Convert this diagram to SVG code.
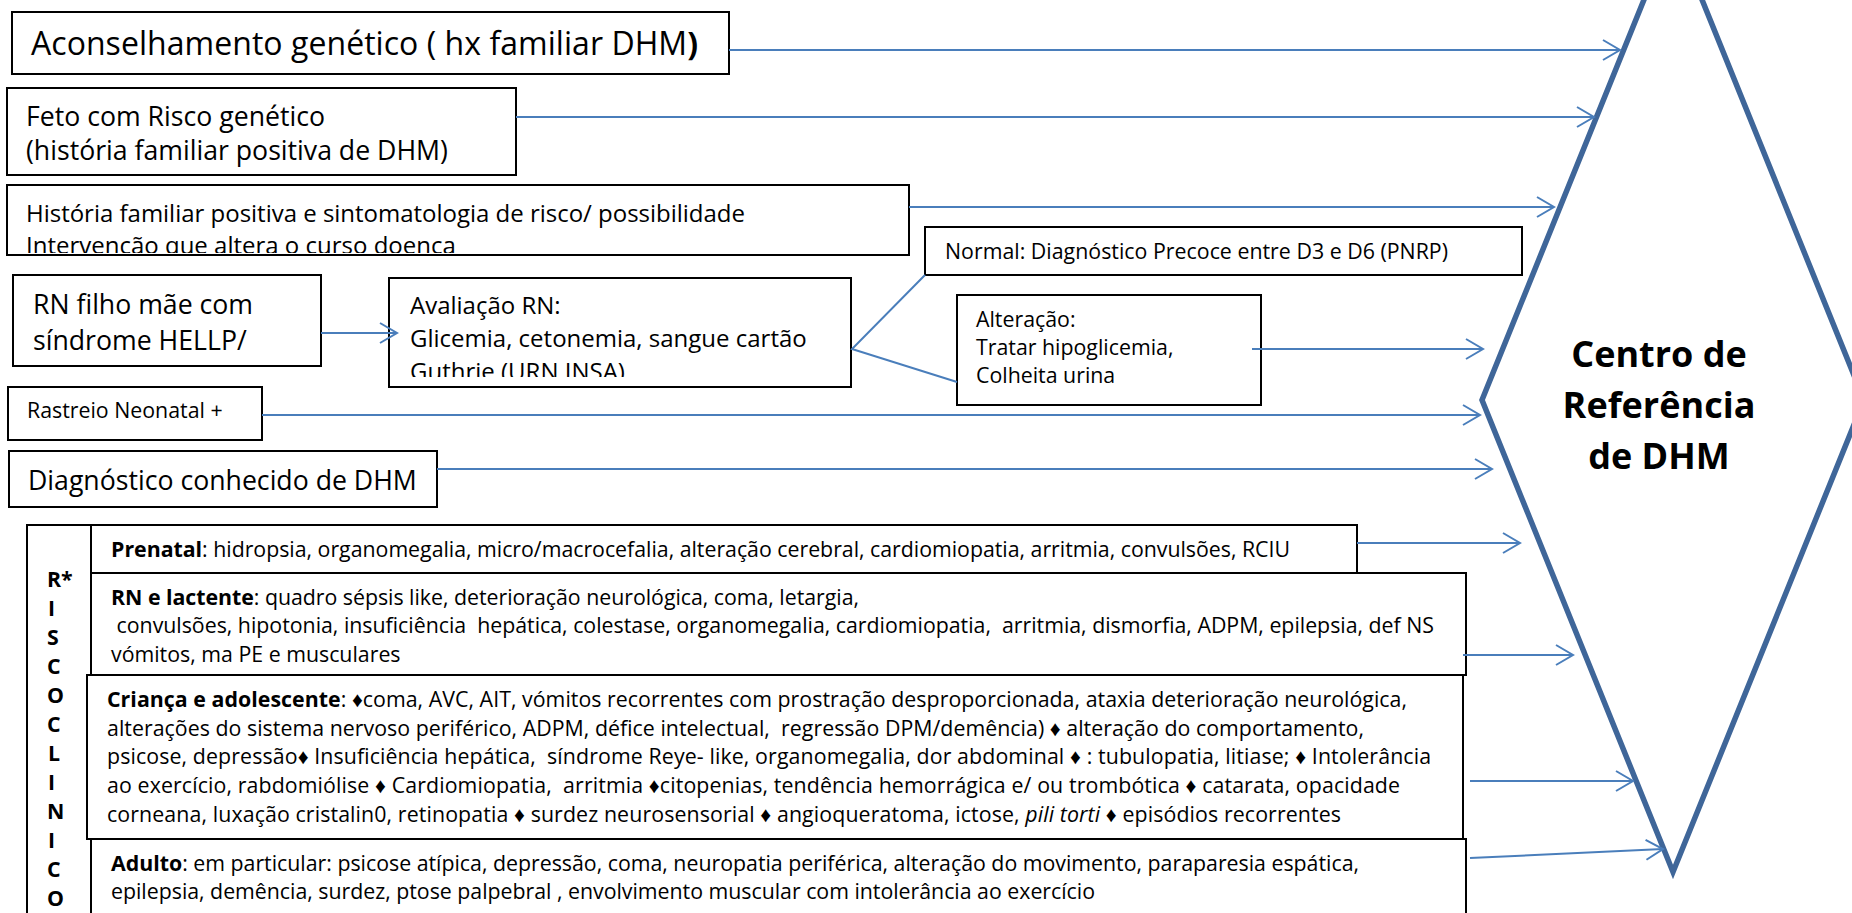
<svg xmlns="http://www.w3.org/2000/svg" width="1852" height="913" viewBox="0 0 1852 913">
<defs>
<style>
text { font-family: "Open Sans", "Liberation Sans", sans-serif; fill: #000; white-space: pre; }
.box { fill: #fff; stroke: #000; stroke-width: 2; }
.conn { fill: none; stroke: #4a7ebb; stroke-width: 2; }
.f32 { font-size: 32px; }
.f27 { font-size: 26.67px; }
.f24 { font-size: 24px; }
.f21 { font-size: 21.33px; }
.b { font-weight: bold; }
.col { font-size: 21.33px; font-weight: bold; }
.hub { font-size: 36px; font-weight: bold; text-anchor: middle; }
</style>
<marker id="ah" markerUnits="userSpaceOnUse" markerWidth="22" markerHeight="24" viewBox="0 0 22 24" refX="19" refY="12" orient="auto">
<path d="M2,2 L19,12 L2,22" fill="none" stroke="#4a7ebb" stroke-width="2"/>
</marker>
<clipPath id="clip3"><rect x="7" y="185" width="902" height="68"/></clipPath>
<clipPath id="clipav"><rect x="389" y="278" width="462" height="99"/></clipPath>
</defs>
<rect x="0" y="0" width="1852" height="913" fill="#fff"/>

<g id="centro-referencia">
<polygon points="1673,-72 1864,400 1673,872 1482,400" fill="#fff" stroke="#3f6699" stroke-width="5.5"/>
<text class="hub" x="1659" y="367">Centro de</text>
<text class="hub" x="1659" y="418">Referência</text>
<text class="hub" x="1659" y="469">de DHM</text>
</g>

<g id="aconselhamento">
<rect class="box" x="12" y="12" width="717" height="62"/>
<text class="f32" x="31" y="55" textLength="667">Aconselhamento genético ( hx familiar DHM<tspan class="b">)</tspan></text>
</g>

<g id="feto-risco">
<rect class="box" x="7" y="88" width="509" height="87"/>
<text class="f27" x="26" y="126">Feto com Risco genético</text>
<text class="f27" x="26" y="160">(história familiar positiva de DHM)</text>
</g>

<g id="historia-familiar">
<rect class="box" x="7" y="185" width="902" height="70"/>
<text class="f24" x="26" y="222" textLength="719">História familiar positiva e sintomatologia de risco/ possibilidade</text>
<text class="f24" x="26" y="254" clip-path="url(#clip3)">Intervenção que altera o curso doença</text>
</g>

<g id="normal">
<rect class="box" x="925" y="227" width="597" height="48"/>
<text class="f21" x="945" y="259" textLength="503">Normal: Diagnóstico Precoce entre D3 e D6 (PNRP)</text>
</g>

<g id="rn-hellp">
<rect class="box" x="13" y="275" width="308" height="91"/>
<text class="f27" x="33" y="314">RN filho mãe com</text>
<text class="f27" x="33" y="350">síndrome HELLP/</text>
</g>

<g id="avaliacao-rn">
<rect class="box" x="389" y="278" width="462" height="109"/>
<text class="f24" x="410" y="314">Avaliação RN:</text>
<text class="f24" x="410" y="347">Glicemia, cetonemia, sangue cartão</text>
<text class="f24" x="410" y="380" clip-path="url(#clipav)">Guthrie (URN INSA)</text>
</g>

<g id="alteracao">
<rect class="box" x="957" y="295" width="304" height="110"/>
<text class="f21" x="976" y="327">Alteração:</text>
<text class="f21" x="976" y="355">Tratar hipoglicemia,</text>
<text class="f21" x="976" y="383">Colheita urina</text>
</g>

<g id="rastreio">
<rect class="box" x="8" y="387" width="254" height="53"/>
<text class="f21" x="27" y="418">Rastreio Neonatal +</text>
</g>

<g id="diagnostico">
<rect class="box" x="9" y="451" width="428" height="56"/>
<text class="f27" x="28" y="490">Diagnóstico conhecido de DHM</text>
</g>

<g id="risco-clinico">
<rect class="box" x="27" y="525" width="64" height="410"/>
<text class="col" x="47" y="587">R*</text>
<text class="col" x="48" y="616">I</text>
<text class="col" x="47" y="645">S</text>
<text class="col" x="47" y="674">C</text>
<text class="col" x="47" y="703">O</text>
<text class="col" x="47" y="732">C</text>
<text class="col" x="48" y="761">L</text>
<text class="col" x="48" y="790">I</text>
<text class="col" x="47" y="819">N</text>
<text class="col" x="48" y="848">I</text>
<text class="col" x="47" y="877">C</text>
<text class="col" x="47" y="906">O</text>
</g>

<g id="prenatal">
<rect class="box" x="91" y="525" width="1266" height="48"/>
<text class="f21" x="111" y="557" textLength="1179"><tspan class="b">Prenatal</tspan>: hidropsia, organomegalia, micro/macrocefalia, alteração cerebral, cardiomiopatia, arritmia, convulsões, RCIU</text>
</g>

<g id="rn-lactente">
<rect class="box" x="91" y="573" width="1375" height="102"/>
<text class="f21" x="111" y="605" textLength="748"><tspan class="b">RN e lactente</tspan>: quadro sépsis like, deterioração neurológica, coma, letargia,</text>
<text class="f21" x="111" y="633" textLength="1323"> convulsões, hipotonia, insuficiência  hepática, colestase, organomegalia, cardiomiopatia,  arritmia, dismorfia, ADPM, epilepsia, def NS</text>
<text class="f21" x="111" y="662">vómitos, ma PE e musculares</text>
</g>

<g id="crianca-adolescente">
<rect class="box" x="87" y="675" width="1376" height="164"/>
<text class="f21" x="107" y="707" textLength="1300"><tspan class="b">Criança e adolescente</tspan>: ♦coma, AVC, AIT, vómitos recorrentes com prostração desproporcionada, ataxia deterioração neurológica,</text>
<text class="f21" x="107" y="736" textLength="1257">alterações do sistema nervoso periférico, ADPM, défice intelectual,  regressão DPM/demência) ♦ alteração do comportamento,</text>
<text class="f21" x="107" y="764" textLength="1324">psicose, depressão♦ Insuficiência hepática,  síndrome Reye- like, organomegalia, dor abdominal ♦ : tubulopatia, litiase; ♦ Intolerância</text>
<text class="f21" x="107" y="793" textLength="1293">ao exercício, rabdomiólise ♦ Cardiomiopatia,  arritmia ♦citopenias, tendência hemorrágica e/ ou trombótica ♦ catarata, opacidade</text>
<text class="f21" x="107" y="822" textLength="1234">corneana, luxação cristalin0, retinopatia ♦ surdez neurosensorial ♦ angioqueratoma, ictose, <tspan font-style="italic">pili torti</tspan> ♦ episódios recorrentes</text>
</g>

<g id="adulto">
<rect class="box" x="91" y="839" width="1375" height="96"/>
<text class="f21" x="111" y="871" textLength="1248"><tspan class="b">Adulto</tspan>: em particular: psicose atípica, depressão, coma, neuropatia periférica, alteração do movimento, paraparesia espática,</text>
<text class="f21" x="111" y="899" textLength="984">epilepsia, demência, surdez, ptose palpebral , envolvimento muscular com intolerância ao exercício</text>
</g>

<g id="connectors">
<line class="conn" x1="729" y1="50" x2="1620" y2="50" marker-end="url(#ah)"/>
<line class="conn" x1="516" y1="117" x2="1594" y2="117" marker-end="url(#ah)"/>
<line class="conn" x1="909" y1="207" x2="1554" y2="207" marker-end="url(#ah)"/>
<line class="conn" x1="321" y1="333" x2="397" y2="333" marker-end="url(#ah)"/>
<polyline class="conn" points="925,275 852,349 957,382"/>
<line class="conn" x1="1252" y1="349" x2="1483" y2="349" marker-end="url(#ah)"/>
<line class="conn" x1="262" y1="415" x2="1480" y2="415" marker-end="url(#ah)"/>
<line class="conn" x1="437" y1="469" x2="1492" y2="469" marker-end="url(#ah)"/>
<line class="conn" x1="1357" y1="543" x2="1520" y2="543" marker-end="url(#ah)"/>
<line class="conn" x1="1463" y1="655" x2="1573" y2="655" marker-end="url(#ah)"/>
<line class="conn" x1="1470" y1="781" x2="1633" y2="781" marker-end="url(#ah)"/>
<line class="conn" x1="1470" y1="858" x2="1663" y2="849" marker-end="url(#ah)"/>
</g>
</svg>
